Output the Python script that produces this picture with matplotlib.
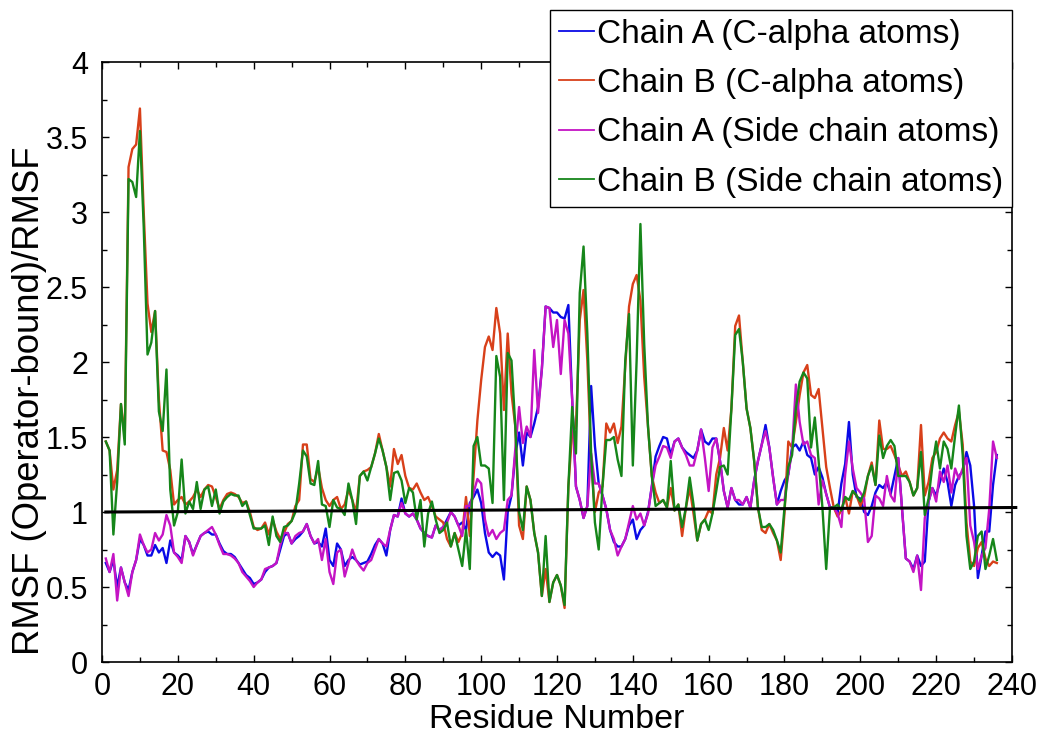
import matplotlib
matplotlib.use("Agg")
import matplotlib.pyplot as plt
from matplotlib.ticker import MultipleLocator
import numpy as np

# residue numbers 1..236
residues = list(range(1, 237))

chainA_calpha = [
    0.66, 0.60, 0.68, 0.50, 0.63, 0.53, 0.48, 0.60, 0.68, 0.82,
    0.78, 0.71, 0.71, 0.78, 0.73, 0.76, 0.66, 0.81, 0.73, 0.71,
    0.68, 0.84, 0.80, 0.72, 0.78, 0.84, 0.86, 0.87, 0.85, 0.85,
    0.79, 0.74, 0.72, 0.72, 0.70, 0.66, 0.62, 0.58, 0.56, 0.52,
    0.53, 0.55, 0.60, 0.63, 0.64, 0.66, 0.75, 0.84, 0.86, 0.79,
    0.82, 0.84, 0.87, 0.92, 0.84, 0.79, 0.80, 0.77, 0.89, 0.68,
    0.64, 0.79, 0.75, 0.64, 0.68, 0.70, 0.68, 0.65, 0.66, 0.67,
    0.72, 0.78, 0.82, 0.79, 0.71, 0.88, 0.98, 0.97, 1.09, 0.99,
    0.97, 0.99, 0.95, 0.89, 0.86, 0.84, 0.83, 0.91, 0.88, 0.90,
    0.95, 1.00, 0.97, 0.91, 0.93, 0.88, 1.06, 1.10, 1.15, 1.06,
    0.86, 0.73, 0.70, 0.73, 0.71, 0.55, 1.00, 1.11, 1.38, 1.53,
    1.31, 1.53, 1.50, 1.59, 1.70, 1.95, 2.37, 2.36, 2.33, 2.33,
    2.30, 2.29, 2.38, 1.75, 1.17, 1.08, 0.96, 1.04, 1.84, 1.44,
    1.19, 1.11, 1.02, 0.88, 0.80, 0.77, 0.77, 0.82, 0.91, 0.95,
    0.82, 0.88, 0.91, 1.00, 1.17, 1.37, 1.44, 1.50, 1.49, 1.38,
    1.47, 1.49, 1.43, 1.40, 1.38, 1.36, 1.41, 1.55, 1.47, 1.45,
    1.49, 1.49, 1.34, 1.14, 1.03, 1.16, 1.08, 1.05, 1.05, 1.10,
    1.03, 1.21, 1.34, 1.45, 1.58, 1.43, 1.23, 1.05, 1.14, 1.21,
    1.25, 1.43, 1.45, 1.41, 1.47, 1.38, 1.36, 1.25, 1.30, 1.23,
    1.12, 1.03, 1.03, 0.99, 1.19, 1.32, 1.60, 1.25, 1.10, 1.09,
    1.00, 0.98, 1.04, 1.13, 1.18, 1.16, 1.20, 1.12, 1.24, 1.36,
    1.02, 0.69, 0.67, 0.62, 0.71, 0.64, 0.67, 1.07, 1.16, 1.11,
    1.20, 1.29, 1.20, 1.04, 1.18, 1.24, 1.27, 1.40, 1.31, 1.04,
    0.56, 0.71, 0.87, 0.87, 1.18, 1.38,
]

chainB_calpha = [
    1.47, 1.41, 1.15, 1.28, 1.72, 1.50, 3.30, 3.42, 3.45, 3.69,
    3.00, 2.39, 2.20, 2.34, 1.75, 1.41, 1.40, 1.28, 1.05, 1.08,
    1.10, 1.05, 1.07, 1.10, 1.15, 1.10, 1.15, 1.18, 1.17, 1.10,
    1.02, 1.08, 1.12, 1.13, 1.12, 1.10, 1.06, 1.07, 1.00, 0.90,
    0.88, 0.89, 0.93, 0.85, 0.95, 0.87, 0.82, 0.86, 0.92, 0.94,
    1.04, 1.08, 1.45, 1.45, 1.22, 1.20, 1.30, 1.16, 1.08, 1.04,
    1.08, 1.10, 1.02, 1.05, 1.15, 1.08, 1.00, 1.24, 1.27, 1.28,
    1.30, 1.39, 1.52, 1.41, 1.30, 1.17, 1.42, 1.32, 1.38, 1.24,
    1.16, 1.15, 1.19, 1.13, 1.08, 1.10, 1.04, 0.97, 0.95, 0.93,
    0.82, 0.77, 0.86, 0.80, 0.86, 1.10, 0.84, 1.24, 1.61, 1.88,
    2.10, 2.17, 2.08, 2.36, 2.19, 1.68, 2.19, 1.79, 1.57, 0.91,
    0.82, 1.17, 1.08, 0.86, 0.73, 0.44, 0.62, 0.40, 0.53, 0.58,
    0.51, 0.36, 1.17, 1.53, 1.57, 2.28, 2.48, 2.01, 1.35, 1.00,
    1.13, 1.17, 1.59, 1.53, 1.59, 1.46, 1.57, 1.97, 2.37, 2.52,
    2.58, 2.41, 1.90, 1.57, 1.24, 1.13, 1.06, 1.08, 1.03, 1.16,
    1.01, 1.05, 0.84, 1.03, 1.16, 0.99, 0.81, 0.92, 0.95, 1.01,
    0.99, 1.25, 1.36, 1.56, 1.41, 1.69, 2.24, 2.31, 2.00, 1.69,
    1.56, 1.34, 1.03, 0.88, 0.86, 0.92, 0.86, 0.81, 0.68, 0.99,
    1.47, 1.43, 1.60, 1.78, 1.93, 1.98, 1.78, 1.76, 1.82, 1.56,
    1.30, 1.16, 1.03, 0.97, 1.01, 1.10, 0.99, 1.14, 1.11, 1.04,
    1.10, 1.24, 1.33, 1.18, 1.61, 1.42, 1.42, 1.44, 1.38, 1.31,
    1.24, 1.27, 1.20, 1.11, 1.16, 1.58, 1.11, 1.20, 1.36, 1.40,
    1.49, 1.53, 1.49, 1.47, 1.58, 1.67, 1.45, 0.93, 0.67, 0.64,
    0.76, 0.80, 0.69, 0.64, 0.67, 0.66,
]

chainA_side = [
    0.69, 0.60, 0.72, 0.41, 0.63, 0.53, 0.44, 0.60, 0.68, 0.85,
    0.78, 0.73, 0.75, 0.86, 0.81, 0.85, 0.98, 0.91, 0.73, 0.70,
    0.66, 0.84, 0.80, 0.71, 0.78, 0.84, 0.86, 0.88, 0.90, 0.85,
    0.78, 0.72, 0.72, 0.71, 0.69, 0.66, 0.60, 0.57, 0.54, 0.50,
    0.53, 0.55, 0.62, 0.63, 0.64, 0.66, 0.78, 0.86, 0.86, 0.79,
    0.84, 0.86, 0.87, 0.92, 0.84, 0.79, 0.82, 0.68, 0.82, 0.60,
    0.52, 0.73, 0.75, 0.57, 0.66, 0.75, 0.68, 0.64, 0.61, 0.66,
    0.68, 0.75, 0.82, 0.79, 0.77, 0.88, 0.98, 0.97, 1.06, 0.99,
    0.97, 0.99, 0.95, 0.89, 0.86, 0.84, 0.83, 0.91, 0.88, 0.90,
    0.93, 1.00, 0.97, 0.91, 0.84, 1.04, 1.04, 1.13, 1.22, 1.19,
    0.95, 0.84, 0.88, 0.82, 0.86, 0.88, 1.08, 1.11, 1.42, 1.70,
    1.46, 1.57, 1.50, 2.08, 1.66, 1.95, 2.37, 2.36, 2.10, 2.28,
    1.92, 2.28, 2.19, 1.75, 1.17, 1.08, 0.96, 1.04, 1.39, 1.19,
    1.19, 1.11, 1.02, 0.88, 0.82, 0.71, 0.77, 0.82, 0.93, 1.04,
    0.95, 0.99, 0.91, 0.99, 1.17, 1.31, 1.37, 1.44, 1.43, 1.36,
    1.47, 1.49, 1.43, 1.38, 1.31, 1.31, 1.41, 1.55, 1.36, 1.14,
    1.43, 1.49, 1.34, 1.14, 1.03, 1.16, 1.08, 1.08, 1.05, 1.10,
    1.03, 1.21, 1.34, 1.45, 1.54, 1.43, 1.23, 1.05, 1.08, 1.08,
    1.25, 1.41, 1.85, 1.60, 1.45, 1.47, 1.38, 1.36, 1.05, 1.21,
    1.12, 1.03, 1.03, 0.99, 0.90, 1.25, 1.47, 1.29, 1.16, 1.13,
    1.09, 0.80, 0.84, 1.11, 1.09, 1.04, 1.24, 1.11, 1.07, 1.36,
    1.02, 0.69, 0.67, 0.60, 0.71, 0.48, 0.96, 1.07, 1.16, 1.07,
    1.27, 1.20, 1.31, 1.13, 1.29, 1.22, 1.29, 1.36, 0.91, 0.80,
    0.62, 0.71, 0.76, 1.02, 1.47, 1.36,
]

chainB_side = [
    1.47, 1.41, 0.85, 1.20, 1.72, 1.45, 3.22, 3.20, 3.10, 3.54,
    2.90, 2.05, 2.13, 2.34, 1.67, 1.54, 1.95, 1.15, 0.91, 1.00,
    1.35, 0.99, 1.07, 1.02, 1.20, 1.02, 1.15, 1.17, 1.04, 1.15,
    0.99, 1.07, 1.10, 1.12, 1.11, 1.11, 1.04, 1.07, 0.98, 0.89,
    0.89, 0.89, 0.91, 0.78, 0.97, 0.84, 0.80, 0.90, 0.91, 0.94,
    1.00, 1.19, 1.41, 1.37, 1.19, 1.18, 1.34, 1.05, 1.04, 0.90,
    1.08, 1.03, 1.02, 0.98, 1.19, 1.08, 0.92, 1.24, 1.27, 1.21,
    1.30, 1.39, 1.49, 1.41, 1.30, 1.08, 1.26, 1.27, 1.21, 1.06,
    1.16, 1.13, 0.95, 1.08, 0.77, 0.99, 1.07, 0.95, 0.86, 0.88,
    0.93, 0.77, 0.86, 0.75, 0.64, 0.88, 0.62, 1.44, 1.50, 1.31,
    1.31, 1.29, 1.06, 2.04, 1.90, 1.08, 2.06, 2.01, 1.57, 1.00,
    0.88, 1.17, 1.08, 0.86, 0.73, 0.44, 0.84, 0.40, 0.53, 0.58,
    0.51, 0.38, 1.17, 1.70, 1.39, 2.46, 2.77, 2.19, 1.39, 0.93,
    0.75, 1.17, 1.48, 1.48, 1.50, 1.35, 1.24, 2.01, 2.32, 1.31,
    2.01, 2.92, 2.12, 1.57, 1.24, 1.04, 1.06, 1.08, 1.03, 1.34,
    1.01, 1.05, 0.90, 1.03, 1.23, 1.05, 0.81, 0.92, 0.95, 0.88,
    0.99, 1.14, 1.30, 1.31, 1.25, 1.69, 2.18, 2.22, 2.00, 1.69,
    1.56, 1.34, 1.03, 0.90, 0.90, 0.92, 0.88, 0.81, 0.73, 1.03,
    1.30, 1.38, 1.69, 1.87, 1.93, 1.89, 1.43, 1.63, 1.34, 1.03,
    0.62, 1.03, 1.03, 1.05, 1.01, 1.10, 1.08, 1.14, 1.11, 1.07,
    1.13, 1.24, 1.31, 1.18, 1.51, 1.36, 1.44, 1.48, 1.44, 1.24,
    1.24, 1.24, 1.20, 1.11, 1.16, 1.40, 0.98, 1.09, 1.31, 1.47,
    1.29, 1.47, 1.42, 1.29, 1.51, 1.71, 1.38, 0.84, 0.62, 0.67,
    0.84, 0.87, 0.62, 0.71, 0.82, 0.68,
]

labels = ["Chain A (C-alpha atoms)", "Chain B (C-alpha atoms)",
          "Chain A (Side chain atoms)", "Chain B (Side chain atoms)"]
colors = ["#0a0ae6", "#d8401a", "#c414c4", "#16861a"]

# reference line at ratio = 1
ref_x = [1, 241]
ref_y = [1.0, 1.03]

plt.rcParams["font.family"] = ["Liberation Sans", "DejaVu Sans"]

fig = plt.figure(figsize=(10.42, 7.40), dpi=100)
ax = fig.add_axes([0.0979, 0.1054, 0.8733, 0.8108])

for vals, lab, col in zip([chainA_calpha, chainB_calpha, chainA_side, chainB_side],
                          labels, colors):
    ax.plot(residues, vals, color=col, lw=1.7, label=lab)

ax.plot(ref_x, ref_y, color="k", lw=2.2, clip_on=False)

ax.set_xlim(0, 240)
ax.set_ylim(0, 4)
ax.xaxis.set_major_locator(MultipleLocator(20))
ax.xaxis.set_minor_locator(MultipleLocator(10))
ax.yaxis.set_major_locator(MultipleLocator(0.5))
ax.yaxis.set_minor_locator(MultipleLocator(0.25))
ax.yaxis.set_major_formatter(plt.FuncFormatter(lambda v, p: "%g" % v))

ax.tick_params(which="both", direction="in", top=True, right=True, width=1.0)
ax.tick_params(which="major", length=5, labelsize=22)
ax.tick_params(axis="x", which="major", pad=7)
ax.tick_params(axis="y", which="major", pad=10)
ax.tick_params(which="minor", length=3.5)
for s in ax.spines.values():
    s.set_linewidth(1.2)

ax.set_xlabel("Residue Number", fontsize=24.5)
ax.xaxis.set_label_coords(0.5, -0.07)
ax.set_ylabel("RMSF (Operator-bound)/RMSF", fontsize=26.3)
ax.yaxis.set_label_coords(-0.061, 0.435)

leg = ax.legend(loc="upper right", bbox_to_anchor=(1.0, 1.087), borderaxespad=0,
                fontsize=24, handlelength=1.05, handletextpad=0.08,
                labelspacing=0.55, borderpad=0.27, fancybox=False, framealpha=1)
leg.get_frame().set_edgecolor("k")
leg.get_frame().set_linewidth(1.0)
for h in leg.get_lines():
    h.set_linewidth(1.3)

fig.savefig("out.png", dpi=100)
